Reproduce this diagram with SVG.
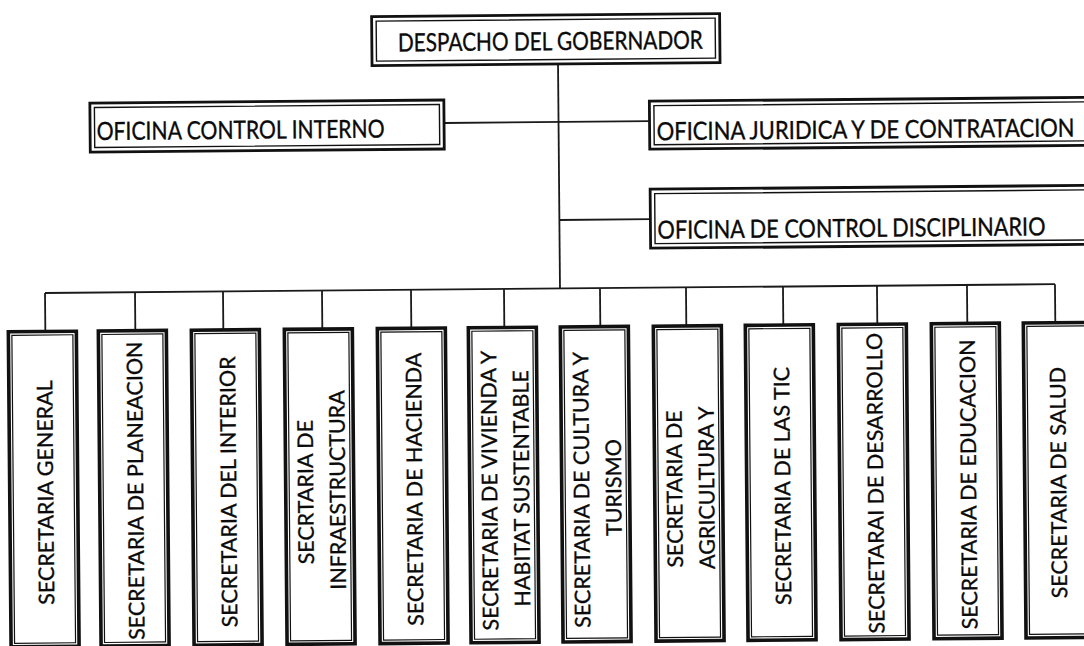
<svg xmlns="http://www.w3.org/2000/svg" width="1084" height="646" viewBox="0 0 1084 646">
  <style>
    .bg { fill: #ffffff; }
    .outer { fill: #ffffff; stroke: #111111; stroke-width: 2.8; }
    .inner { fill: none; stroke: #111111; stroke-width: 1.4; }
    .bouter { fill: #ffffff; stroke: #111111; stroke-width: 3.6; }
    .binner { fill: none; stroke: #111111; stroke-width: 1.2; }
    .conn { fill: none; stroke: #1a1a1a; stroke-width: 1.8; }
    .t { font-family: Lato, "Open Sans", "Liberation Sans", sans-serif; font-size: 25px; fill: #0a0a0a; stroke: #0a0a0a; stroke-width: 0.35; }
    .v { font-family: Lato, "Open Sans", "Liberation Sans", sans-serif; font-size: 21.5px; fill: #0a0a0a; stroke: #0a0a0a; stroke-width: 0.3; text-anchor: middle; }
  </style>
  <rect class="bg" x="0" y="0" width="1084" height="646"/>
  <g transform="rotate(-0.5 560 290)">
    <g id="connectors">
      <line class="conn" x1="560" y1="64" x2="560" y2="288.5"/>
      <line class="conn" x1="446" y1="122" x2="651" y2="122"/>
      <line class="conn" x1="560" y1="220" x2="651" y2="220"/>
      <line class="conn" x1="45" y1="288.5" x2="1055" y2="288.5"/>
      <line class="conn" x1="45" y1="288.5" x2="45" y2="327"/>
      <line class="conn" x1="135" y1="288.5" x2="135" y2="327"/>
      <line class="conn" x1="223" y1="288.5" x2="223" y2="327"/>
      <line class="conn" x1="322" y1="288.5" x2="322" y2="327"/>
      <line class="conn" x1="411" y1="288.5" x2="411" y2="327"/>
      <line class="conn" x1="504" y1="288.5" x2="504" y2="327"/>
      <line class="conn" x1="600" y1="288.5" x2="600" y2="327"/>
      <line class="conn" x1="686" y1="288.5" x2="686" y2="327"/>
      <line class="conn" x1="783" y1="288.5" x2="783" y2="327"/>
      <line class="conn" x1="877" y1="288.5" x2="877" y2="327"/>
      <line class="conn" x1="967" y1="288.5" x2="967" y2="327"/>
      <line class="conn" x1="1055" y1="288.5" x2="1055" y2="327"/>
    </g>

    <g id="despacho">
      <rect class="outer" x="374" y="15" width="348" height="49"/>
      <rect class="inner" x="378.5" y="19.5" width="339" height="40"/>
      <text class="t" transform="translate(400 50) scale(0.9 1)" x="0" y="0" textLength="338.9" lengthAdjust="spacingAndGlyphs">DESPACHO DEL GOBERNADOR</text>
    </g>

    <g id="control-interno">
      <rect class="outer" x="91.5" y="99" width="354" height="49"/>
      <rect class="inner" x="96" y="103.5" width="345" height="40"/>
      <text class="t" transform="translate(98 136) scale(0.9 1)" x="0" y="0" textLength="320" lengthAdjust="spacingAndGlyphs">OFICINA CONTROL INTERNO</text>
    </g>

    <g id="juridica">
      <path class="outer" d="M1086,102 H651 V150 H1086"/>
      <path class="inner" d="M1086,106.5 H655.5 V145.5 H1086"/>
      <text class="t" transform="translate(658 141) scale(0.9 1)" x="0" y="0" textLength="464.4" lengthAdjust="spacingAndGlyphs">OFICINA JURIDICA Y DE CONTRATACION</text>
    </g>

    <g id="disciplinario">
      <path class="outer" d="M1086,190 H651 V249 H1086"/>
      <path class="inner" d="M1086,194.5 H655.5 V244.5 H1086"/>
      <text class="t" transform="translate(658 239.5) scale(0.9 1)" x="0" y="0" textLength="431.1" lengthAdjust="spacingAndGlyphs">OFICINA DE CONTROL DISCIPLINARIO</text>
    </g>

    <g id="sec-general">
      <rect class="bouter" x="8" y="327" width="68" height="315"/>
      <rect class="binner" x="11.5" y="330.5" width="61" height="308"/>
      <text class="v" transform="translate(51.5 488) rotate(-90)">SECRETARIA GENERAL</text>
    </g>
    <g id="sec-planeacion">
      <rect class="bouter" x="98" y="327" width="68" height="315"/>
      <rect class="binner" x="101.5" y="330.5" width="61" height="308"/>
      <text class="v" transform="translate(141.5 487) rotate(-90)">SECRETARIA DE PLANEACION</text>
    </g>
    <g id="sec-interior">
      <rect class="bouter" x="191" y="327" width="68" height="315"/>
      <rect class="binner" x="194.5" y="330.5" width="61" height="308"/>
      <text class="v" transform="translate(234.5 489) rotate(-90)">SECRETARIA DEL INTERIOR</text>
    </g>
    <g id="sec-infraestructura">
      <rect class="bouter" x="284" y="327" width="68" height="315"/>
      <rect class="binner" x="287.5" y="330.5" width="61" height="308"/>
      <text class="v" transform="translate(311.5 490) rotate(-90)">SECRTARIA DE</text>
      <text class="v" transform="translate(343.5 488) rotate(-90)">INFRAESTRUCTURA</text>
    </g>
    <g id="sec-hacienda">
      <rect class="bouter" x="377" y="327" width="68" height="315"/>
      <rect class="binner" x="380.5" y="330.5" width="61" height="308"/>
      <text class="v" transform="translate(420.5 488) rotate(-90)">SECRETARIA DE HACIENDA</text>
    </g>
    <g id="sec-vivienda">
      <rect class="bouter" x="468" y="327" width="68" height="315"/>
      <rect class="binner" x="471.5" y="330.5" width="61" height="308"/>
      <text class="v" transform="translate(495.5 490) rotate(-90)">SECRETARIA DE VIVIENDA Y</text>
      <text class="v" transform="translate(527.5 488) rotate(-90)">HABITAT SUSTENTABLE</text>
    </g>
    <g id="sec-cultura">
      <rect class="bouter" x="560" y="327" width="68" height="315"/>
      <rect class="binner" x="563.5" y="330.5" width="61" height="308"/>
      <text class="v" transform="translate(587.5 490) rotate(-90)">SECRETARIA DE CULTURA Y</text>
      <text class="v" transform="translate(619.5 488) rotate(-90)">TURISMO</text>
    </g>
    <g id="sec-agricultura">
      <rect class="bouter" x="653" y="327" width="68" height="315"/>
      <rect class="binner" x="656.5" y="330.5" width="61" height="308"/>
      <text class="v" transform="translate(680.5 490) rotate(-90)">SECRETARIA DE</text>
      <text class="v" transform="translate(712.5 489) rotate(-90)">AGRICULTURA Y</text>
    </g>
    <g id="sec-tic">
      <rect class="bouter" x="745" y="327" width="68" height="315"/>
      <rect class="binner" x="748.5" y="330.5" width="61" height="308"/>
      <text class="v" transform="translate(788.5 488) rotate(-90)">SECRETARIA DE LAS TIC</text>
    </g>
    <g id="sec-desarrollo">
      <rect class="bouter" x="838" y="327" width="68" height="315"/>
      <rect class="binner" x="841.5" y="330.5" width="61" height="308"/>
      <text class="v" transform="translate(881.5 486) rotate(-90)">SECRETARAI DE DESARROLLO</text>
    </g>
    <g id="sec-educacion">
      <rect class="bouter" x="931" y="327" width="68" height="315"/>
      <rect class="binner" x="934.5" y="330.5" width="61" height="308"/>
      <text class="v" transform="translate(974.5 488) rotate(-90)">SECRETARIA DE EDUCACION</text>
    </g>
    <g id="sec-salud">
      <rect class="bouter" x="1023" y="327" width="68" height="315"/>
      <rect class="binner" x="1026.5" y="330.5" width="61" height="308"/>
      <text class="v" transform="translate(1064.5 487) rotate(-90)">SECRETARIA DE SALUD</text>
    </g>
  </g>
</svg>
